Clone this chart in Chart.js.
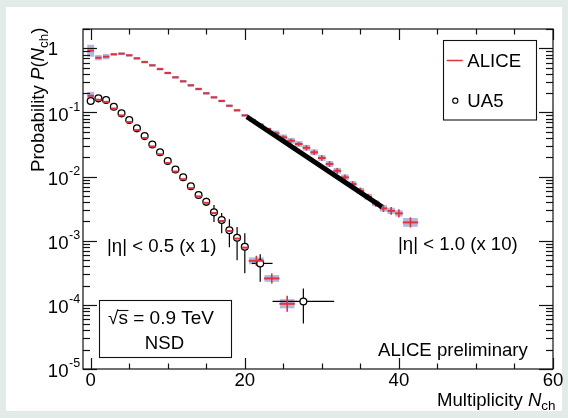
<!DOCTYPE html>
<html><head><meta charset="utf-8">
<script src="https://cdn.jsdelivr.net/npm/chart.js@4.4.0/dist/chart.umd.min.js"></script>
<style>html,body{margin:0;padding:0;background:#e3ebe8;}canvas{display:block;}</style>
</head><body>
<canvas id="c" width="568" height="418"></canvas>
<script>
// ---------------- data ----------------
// |eta| < 1.0 (x 10), ALICE, low-N part (dashes)
const nchWide = [0,1,2,3,4,5,6,7,8,9,10,11,12,13,14,15,16,17,18,19,20,21,22,23];
const aliceWide = [0.917,0.713,0.740,0.806,0.824,0.778,0.698,0.611,0.543,0.475,0.412,0.353,0.306,0.265,0.232,0.199,0.172,0.151,0.127,0.108,0.090,0.0753,0.0645,0.0551];
const aliceWideSys = [0.24,0.10,0.10,0.05,0.05,0.05,0.05,0.05,0.05,0.05,0.05,0.05,0.05,0.05,0.05,0.05,0.05,0.05,0.05,0.05,0.05,0.05,0.05,0.05];
// |eta| < 1.0 (x 10), ALICE, tail (crosses)
const nchWideTail = [24,25,26,27,28,29,30,31,32,33,34,35,36,37,38,39,40,41.5];
const aliceWideTail = [0.0472,0.0409,0.0362,0.0322,0.0281,0.0239,0.0195,0.0157,0.0123,0.00972,0.00764,0.00601,0.00484,0.00382,0.00319,0.00292,0.00267,0.00193];
const aliceWideTailStat = [0.07,0.07,0.07,0.07,0.1,0.1,0.1,0.11,0.11,0.11,0.11,0.12,0.12,0.13,0.14,0.15,0.16,0.2];
const aliceWideTailSys = [0.11,0.11,0.11,0.11,0.11,0.11,0.11,0.11,0.11,0.11,0.11,0.11,0.11,0.11,0.12,0.12,0.12,0.17];
const aliceWideTailBin = [1,1,1,1,1,1,1,1,1,1,1,1,1,1,1,1,1,2];
// fit line on |eta| < 1.0
const fitN = [20.26, 37.8];
const fitP = [0.0857, 0.00338];

// |eta| < 0.5 (x 1), ALICE
const nchNarrow = [0,1,2,3,4,5,6,7,8,9,10,11,12,13,14,15,16,17,18,19,20];
const aliceNarrow = [0.182,0.158,0.146,0.115,0.090,0.071,0.053,0.040,0.0295,0.0223,0.0163,0.0120,0.0091,0.0066,0.0049,0.0039,0.0027,0.00203,0.00142,0.00108,0.00078];
const aliceNarrowSys = [0.15,0.04,0.04,0.04,0.04,0.04,0.04,0.04,0.04,0.04,0.04,0.04,0.04,0.04,0.04,0.04,0.04,0.04,0.04,0.04,0.04];
const nchNarrowTail = [21.5,23.5,25.5];
const aliceNarrowTail = [0.000486,0.000258,0.000104];
const aliceNarrowTailStat = [0.2,0.2,0.33];
const aliceNarrowTailSys = [0.13,0.13,0.18];
const aliceNarrowTailBin = [2,2,2];

// |eta| < 0.5, UA5
const nchUA5 = [0,1,2,3,4,5,6,7,8,9,10,11,12,13,14,15,16,17,18,19,20,22,27.6];
const ua5 = [0.151,0.166,0.156,0.123,0.0968,0.0761,0.0565,0.0428,0.0316,0.0239,0.0175,0.0129,0.00975,0.00706,0.00515,0.00404,0.00277,0.00210,0.00146,0.00111,0.000804,0.000443,0.000113];
const ua5Lo = [null,null,null,null,null,null,null,null,null,null,null,null,null,null,null,0.00350,0.00195,0.00131,0.000794,0.000498,0.000312,0.000229,0.0000513];
const ua5Hi = [null,null,null,null,null,null,null,null,null,null,null,null,null,null,null,0.00467,0.00359,0.00270,0.00217,0.00163,0.00131,0.000618,0.000180];
const ua5XLo = [null,null,null,null,null,null,null,null,null,null,null,null,null,null,null,null,null,null,null,null,null,20.9,23.6];
const ua5XHi = [null,null,null,null,null,null,null,null,null,null,null,null,null,null,null,null,null,null,null,null,null,23.6,31.6];

// axes
const xTickLabels = [0,20,40,60];
const xMinorTicks = [5,10,15,25,30,35,45,50,55];
const yDecadeExps = [-5,-4,-3,-2,-1,0];
const yMin = 1e-5, yMax = 2;

// ---------------- styles ----------------
const FONT = '"Liberation Sans", Arial, Helvetica, sans-serif';
const FS = 18.6;
const RED = '#e0323c';
const SYS = 'rgba(148,156,206,0.72)';
const OUTER = '#e3ebe8';

const pts = (xs, ys) => xs.map((n, i) => ({x: n, y: ys[i]}));
const binRadius = (bins) => (c) => {
  const s = c.chart.scales.x; const n = c.raw.x; const b = bins[c.dataIndex];
  return (s.getPixelForValue(n + b / 2) - s.getPixelForValue(n - b / 2)) / 2;
};

const bgPlugin = {
  id: 'bg',
  beforeDraw(chart) {
    const {ctx, width, height} = chart;
    ctx.save();
    ctx.fillStyle = OUTER; ctx.fillRect(0, 0, width, height);
    ctx.fillStyle = '#fff'; ctx.fillRect(6, 7, width - 12, height - 14);
    ctx.restore();
  }
};

const marksPlugin = {
  id: 'marks',
  beforeDatasetsDraw(chart) {
    const {ctx, chartArea: a, scales: {x, y}} = chart;
    const X = v => x.getPixelForValue(v), Y = v => y.getPixelForValue(v);
    ctx.save();
    ctx.beginPath(); ctx.rect(a.left, a.top, a.width, a.height); ctx.clip();
    ctx.fillStyle = SYS;
    const box = (n, v, r, hw) => {
      const x0 = X(n - hw), x1 = X(n + hw), y0 = Y(v * (1 + r)), y1 = Y(v / (1 + r));
      ctx.fillRect(x0, y0, x1 - x0, y1 - y0);
    };
    nchWide.forEach((n, i) => box(n, aliceWide[i], aliceWideSys[i], i === 0 ? 0.45 : 0.42));
    nchWideTail.forEach((n, i) => box(n, aliceWideTail[i], aliceWideTailSys[i], aliceWideTailBin[i] / 2 * 0.95));
    nchNarrow.forEach((n, i) => box(n, aliceNarrow[i], aliceNarrowSys[i], i === 0 ? 0.45 : 0.42));
    nchNarrowTail.forEach((n, i) => box(n, aliceNarrowTail[i], aliceNarrowTailSys[i], aliceNarrowTailBin[i] / 2 * 0.95));
    const line = (x0, y0, x1, y1) => { ctx.beginPath(); ctx.moveTo(x0, y0); ctx.lineTo(x1, y1); ctx.stroke(); };
    // UA5 error bars
    ctx.strokeStyle = '#000'; ctx.lineWidth = 1.2;
    nchUA5.forEach((n, i) => {
      if (ua5Lo[i] != null) line(X(n), Y(ua5Lo[i]), X(n), Y(ua5Hi[i]));
      if (ua5XLo[i] != null) line(X(ua5XLo[i]), Y(ua5[i]), X(ua5XHi[i]), Y(ua5[i]));
    });
    // ALICE statistical bars
    ctx.strokeStyle = RED; ctx.lineWidth = 1.6;
    nchWideTail.forEach((n, i) => { const v = aliceWideTail[i], s = aliceWideTailStat[i]; line(X(n), Y(v * (1 + s)), X(n), Y(v / (1 + s))); });
    nchNarrowTail.forEach((n, i) => { const v = aliceNarrowTail[i], s = aliceNarrowTailStat[i]; line(X(n), Y(v * (1 + s)), X(n), Y(v / (1 + s))); });
    ctx.restore();
  }
};

const framePlugin = {
  id: 'frame',
  afterDraw(chart) {
    const {ctx, chartArea: a, scales: {x, y}} = chart;
    const X = v => x.getPixelForValue(v), Y = v => y.getPixelForValue(v);
    const line = (x0, y0, x1, y1) => { ctx.beginPath(); ctx.moveTo(x0, y0); ctx.lineTo(x1, y1); ctx.stroke(); };
    ctx.save();
    ctx.strokeStyle = '#111'; ctx.lineWidth = 1.2;
    ctx.strokeRect(a.left, a.top, a.right - a.left, a.bottom - a.top);
    // y ticks
    yDecadeExps.forEach(e => {
      for (let m = 1; m <= 9; m++) {
        const v = m * Math.pow(10, e);
        if (v > yMax * 1.0001 || v < yMin * 0.9999) continue;
        const py = Math.round(Y(v)) + 0.5, len = m === 1 ? 14 : 7;
        line(a.left, py, a.left + len, py);
        line(a.right - len, py, a.right, py);
      }
    });
    // x ticks
    xTickLabels.forEach(v => { const px = Math.round(X(v)) + 0.5; line(px, a.bottom, px, a.bottom - 11); line(px, a.top, px, a.top + 11); });
    xMinorTicks.forEach(v => { const px = Math.round(X(v)) + 0.5; line(px, a.bottom, px, a.bottom - 5.5); line(px, a.top, px, a.top + 5.5); });

    ctx.fillStyle = '#000';
    // y tick labels
    yDecadeExps.forEach(e => {
      const py = Y(Math.pow(10, e));
      if (e === 0) {
        ctx.font = FS + 'px ' + FONT; ctx.textAlign = 'center'; ctx.textBaseline = 'middle';
        ctx.fillText('1', 53, py + 2);
      } else {
        ctx.font = FS + 'px ' + FONT; ctx.textAlign = 'right'; ctx.textBaseline = 'middle';
        ctx.fillText('10', 68.5, py + 3);
        ctx.font = '12.5px ' + FONT; ctx.textAlign = 'left';
        ctx.fillText('-' + (-e), 69, py - 5);
      }
    });

    // axis titles
    ctx.textAlign = 'left'; ctx.textBaseline = 'alphabetic';
    const runs = (parts, x0, y0) => {
      let cx = x0;
      parts.forEach(p => { ctx.font = p.f; ctx.fillText(p.t, cx, y0 + (p.dy || 0)); cx += ctx.measureText(p.t).width; });
    };
    runs([
      {t: 'Multiplicity ', f: FS + 'px ' + FONT},
      {t: 'N', f: 'italic ' + FS + 'px ' + FONT},
      {t: 'ch', f: '13.5px ' + FONT, dy: 4}
    ], 437, 405.5);
    ctx.save();
    ctx.translate(43.5, 172); ctx.rotate(-Math.PI / 2);
    runs([
      {t: 'Probability ', f: FS + 'px ' + FONT},
      {t: 'P', f: 'italic ' + FS + 'px ' + FONT},
      {t: '(', f: FS + 'px ' + FONT},
      {t: 'N', f: 'italic ' + FS + 'px ' + FONT},
      {t: 'ch', f: '13.5px ' + FONT, dy: 4},
      {t: ')', f: FS + 'px ' + FONT}
    ], 0, 0);
    ctx.restore();

    // annotations
    ctx.font = FS + 'px ' + FONT;
    ctx.fillText('|\u03b7| < 0.5 (x 1)', 107, 251.5);
    ctx.fillText('|\u03b7| < 1.0 (x 10)', 398, 250);
    ctx.fillText('ALICE preliminary', 378, 356);

    // sqrt(s) box
    ctx.lineWidth = 1.1; ctx.strokeStyle = '#111';
    ctx.strokeRect(99.5, 300.5, 132, 57);
    const sx = 108, sy = 323.5;
    ctx.font = '19px ' + FONT;
    ctx.fillText('\u221as = 0.9 TeV', sx, sy);
    const wr = ctx.measureText('\u221a').width, ws = ctx.measureText('\u221as').width;
    line(sx + wr - 0.5, 310.5, sx + ws + 0.5, 310.5);
    ctx.textAlign = 'center';
    ctx.font = FS + 'px ' + FONT;
    ctx.fillText('NSD', 164.5, 349.3);

    // legend
    ctx.textAlign = 'left';
    ctx.strokeRect(443.5, 40.5, 93, 79.5);
    ctx.strokeStyle = RED; ctx.lineWidth = 1.5;
    line(446.7, 60.5, 462.7, 60.5);
    ctx.strokeStyle = '#000'; ctx.lineWidth = 1.1;
    ctx.beginPath(); ctx.arc(455.3, 100.7, 2.6, 0, Math.PI * 2); ctx.stroke();
    ctx.fillText('ALICE', 467.3, 66.7);
    ctx.fillText('UA5', 467.3, 106.7);
    ctx.restore();
  }
};

new Chart(document.getElementById('c'), {
  type: 'scatter',
  data: {
    datasets: [
      { label: 'ALICE |\u03b7|<0.5', data: pts(nchNarrow, aliceNarrow), pointStyle: 'line', pointRadius: 3.2, borderColor: RED, borderWidth: 2, order: 1 },
      { label: 'ALICE |\u03b7|<0.5 tail', data: pts(nchNarrowTail, aliceNarrowTail), pointStyle: 'line', pointRadius: binRadius(aliceNarrowTailBin), borderColor: RED, borderWidth: 2, order: 1 },
      { label: 'UA5', data: pts(nchUA5, ua5), pointStyle: 'circle', pointRadius: 3.4, backgroundColor: '#fff', borderColor: '#000', borderWidth: 1.3, order: 2 },
      { label: 'fit', data: pts(fitN, fitP), showLine: true, borderColor: '#000', backgroundColor: '#000', borderWidth: 5, pointRadius: 0, borderCapStyle: 'butt', order: 3 },
      { label: 'ALICE |\u03b7|<1.0', data: pts(nchWide, aliceWide), pointStyle: 'line', pointRadius: 3.2, borderColor: RED, borderWidth: 2, order: 4 },
      { label: 'ALICE |\u03b7|<1.0 tail', data: pts(nchWideTail, aliceWideTail), pointStyle: 'line', pointRadius: binRadius(aliceWideTailBin), borderColor: RED, borderWidth: 2, order: 4 }
    ]
  },
  options: {
    responsive: false,
    animation: false,
    events: [],
    devicePixelRatio: 1,
    layout: { padding: { top: 29, right: 15, left: 0, bottom: 0 } },
    plugins: { legend: { display: false }, tooltip: { enabled: false } },
    scales: {
      x: {
        type: 'linear', min: -1, max: 60,
        afterBuildTicks: s => { s.ticks = xTickLabels.map(v => ({value: v})); },
        afterFit: s => { s.height = 49; },
        grid: { display: false, drawTicks: false }, border: { display: false },
        ticks: { color: '#000', font: { family: FONT, size: FS }, padding: 1, maxRotation: 0, autoSkip: false }
      },
      y: {
        type: 'logarithmic', min: yMin, max: yMax,
        afterFit: s => { s.width = 83; },
        grid: { display: false, drawTicks: false }, border: { display: false },
        ticks: { display: false }
      }
    }
  },
  plugins: [bgPlugin, marksPlugin, framePlugin]
});
</script>
</body></html>
